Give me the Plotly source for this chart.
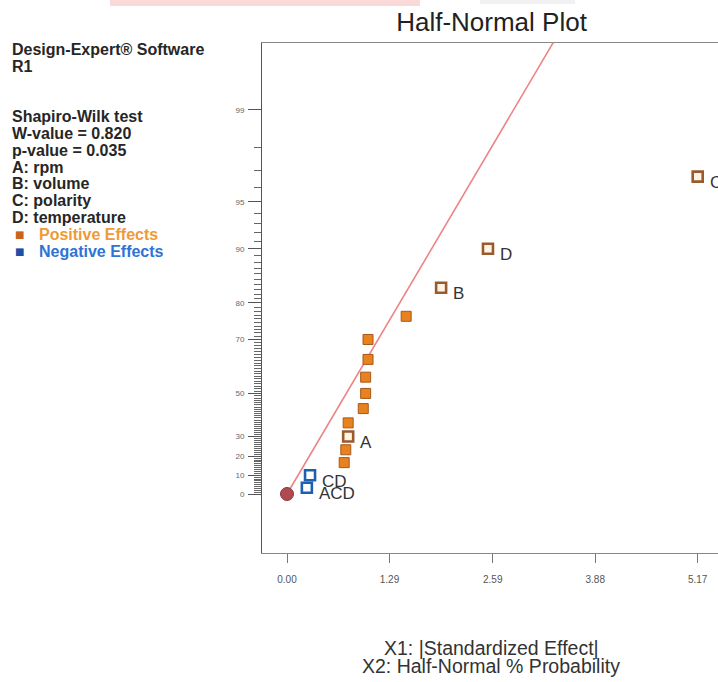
import plotly.graph_objects as go
from statistics import NormalDist

# ---------------- data ----------------
effect_labels = ["ACD", "CD", "", "", "A", "", "", "", "", "", "", "", "B", "D", "C"]
effect_size = [0.25, 0.29, 0.72, 0.74, 0.77, 0.77, 0.96, 0.99, 0.99, 1.02, 1.02, 1.50, 1.94, 2.53, 5.17]
half_normal_pct = [3.33, 10.0, 16.67, 23.33, 30.0, 36.67, 43.33, 50.0, 56.67, 63.33, 70.0,
                   76.67, 83.33, 90.0, 96.67]
effect_sign = ["-", "-", "+", "+", "+", "+", "+", "+", "+", "+", "+", "+", "+", "+", "+"]

fit_line_effect = [0.0, 3.36]
fit_line_pct = [0.0, 99.76]

x_tick_vals = [0.00, 1.29, 2.59, 3.88, 5.17]
x_tick_text = ["0.00", "1.29", "2.59", "3.88", "5.17"]
y_major_pct = [0, 10, 20, 30, 50, 70, 80, 90, 95, 99]
y_minor_pct = [p for p in range(1, 99) if p not in y_major_pct]

info_lines = ["Design-Expert\u00ae Software", "R1", "", "", "Shapiro-Wilk test",
              "W-value = 0.820", "p-value = 0.035", "A: rpm", "B: volume",
              "C: polarity", "D: temperature"]
legend_items = ["Positive Effects", "Negative Effects"]

# ---------------- layout helpers ----------------
W, H = 718, 682
PL, PT, PR, PB = 262, 43, 718, 553
X_RANGE = [-0.3147, 5.4255]
Y_RANGE = [-0.3957, 3.0248]
FONT = "Liberation Sans, Arial, sans-serif"

nd = NormalDist()


def hn(p):
    return nd.inv_cdf(0.5 + p / 200.0)


def paper_x(px):
    return (px - PL) / (PR - PL)


def paper_y(py):
    return (PB - py) / (PB - PT)


fig = go.Figure()

# fitted line
fig.add_trace(go.Scatter(x=fit_line_effect, y=[hn(p) for p in fit_line_pct], mode="lines",
                         line=dict(color="#EC8585", width=1.6), hoverinfo="skip"))
# origin point
fig.add_trace(go.Scatter(x=fit_line_effect[:1], y=[hn(fit_line_pct[0])], mode="markers",
                         marker=dict(symbol="circle", size=13, color="#B04A50",
                                     line=dict(color="#8A383D", width=1))))

pos_plain = [i for i in range(len(effect_size)) if effect_sign[i] == "+" and not effect_labels[i]]
pos_lab = [i for i in range(len(effect_size)) if effect_sign[i] == "+" and effect_labels[i]]
neg = [i for i in range(len(effect_size)) if effect_sign[i] == "-"]

fig.add_trace(go.Scatter(x=[effect_size[i] for i in pos_plain],
                         y=[hn(half_normal_pct[i]) for i in pos_plain], mode="markers",
                         marker=dict(symbol="square", size=10, color="#E8821E",
                                     line=dict(color="#A8581C", width=1))))
fig.add_trace(go.Scatter(x=[effect_size[i] for i in pos_lab],
                         y=[hn(half_normal_pct[i]) for i in pos_lab], mode="markers",
                         marker=dict(symbol="square", size=10, color="#FFF4E6",
                                     line=dict(color="#9A5A2C", width=2.6))))
fig.add_trace(go.Scatter(x=[effect_size[i] for i in neg],
                         y=[hn(half_normal_pct[i]) for i in neg], mode="markers",
                         marker=dict(symbol="square", size=10, color="#FFFFFF",
                                     line=dict(color="#1F5FB0", width=2.6))))

annotations = []
for i, lab in enumerate(effect_labels):
    if lab:
        annotations.append(dict(x=effect_size[i], y=hn(half_normal_pct[i]), xref="x", yref="y",
                                text=lab, showarrow=False, xanchor="left", yanchor="middle",
                                xshift=10, yshift=-6,
                                font=dict(family=FONT, size=17, color="#333333")))

# left info text
info_y0, info_dy = 49.5, 16.8
for k, t in enumerate(info_lines):
    if t:
        annotations.append(dict(x=paper_x(10), y=paper_y(info_y0 + k * info_dy), xref="paper",
                                yref="paper", text=t, showarrow=False, xanchor="left",
                                yanchor="middle",
                                font=dict(family=FONT, size=16, color="#262626", weight="bold")))
leg_colors = [("#C8641E", "#EE9A38"), ("#1F4FA8", "#2E74D6")]
for k, t in enumerate(legend_items):
    yy = info_y0 + (len(info_lines) + k) * info_dy
    annotations.append(dict(x=paper_x(13), y=paper_y(yy), xref="paper", yref="paper",
                            text="\u25a0", showarrow=False, xanchor="left", yanchor="middle",
                            font=dict(family="DejaVu Sans", size=10, color=leg_colors[k][0])))
    annotations.append(dict(x=paper_x(37), y=paper_y(yy), xref="paper", yref="paper",
                            text=t, showarrow=False, xanchor="left", yanchor="middle",
                            font=dict(family=FONT, size=16, color=leg_colors[k][1], weight="bold")))

# axis titles
annotations.append(dict(x=paper_x(491), y=paper_y(648), xref="paper", yref="paper",
                        text="X1: |Standardized Effect|", showarrow=False, xanchor="center",
                        yanchor="middle", font=dict(family=FONT, size=19.5, color="#333333")))
annotations.append(dict(x=paper_x(491), y=paper_y(666), xref="paper", yref="paper",
                        text="X2: Half-Normal % Probability", showarrow=False, xanchor="center",
                        yanchor="middle", font=dict(family=FONT, size=19.5, color="#333333")))

shapes = [
    dict(type="rect", xref="paper", yref="paper", x0=paper_x(110), x1=paper_x(420),
         y0=paper_y(0), y1=paper_y(6), fillcolor="rgba(240,150,145,0.35)", line=dict(width=0),
         layer="below"),
    dict(type="rect", xref="paper", yref="paper", x0=paper_x(480), x1=paper_x(575),
         y0=paper_y(0), y1=paper_y(4), fillcolor="rgba(200,200,200,0.25)", line=dict(width=0),
         layer="below"),
]

fig.update_layout(
    width=W, height=H, autosize=False,
    margin=dict(l=PL, r=W - PR, t=PT, b=H - PB, pad=0),
    paper_bgcolor="white", plot_bgcolor="white",
    showlegend=False,
    title=dict(text="Half-Normal Plot", x=491.5 / W, xref="container", xanchor="center",
               y=1 - 22 / H, yref="container", yanchor="middle",
               font=dict(family=FONT, size=26, color="#222222")),
    annotations=annotations,
    shapes=shapes,
    xaxis=dict(range=X_RANGE, showgrid=False, zeroline=False, showline=True,
               linecolor="#888888", linewidth=1, mirror=True,
               tickmode="array", tickvals=x_tick_vals, ticktext=x_tick_text,
               ticks="outside", ticklen=9, tickcolor="#777777", tickwidth=1,
               ticklabelstandoff=8,
               tickfont=dict(family=FONT, size=10, color="#555555")),
    yaxis=dict(range=Y_RANGE, showgrid=False, zeroline=False, showline=True,
               linecolor="#555555", linewidth=1,
               tickmode="array", tickvals=[hn(p) for p in y_major_pct],
               ticktext=[str(p) for p in y_major_pct],
               ticks="outside", ticklen=13, tickcolor="#555555", tickwidth=1,
               ticklabelstandoff=2,
               tickfont=dict(family=FONT, size=8, color="#666666"),
               minor=dict(tickmode="array", tickvals=[hn(p) for p in y_minor_pct],
                          ticks="outside", ticklen=7, tickcolor="#666666", tickwidth=1,
                          showgrid=False)),
)

fig.write_html("out.html")
